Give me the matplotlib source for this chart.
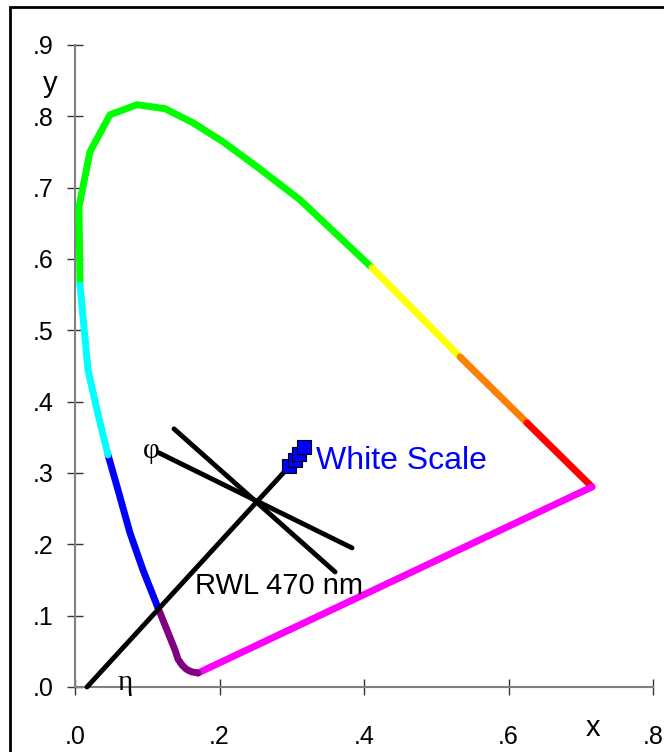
import numpy as np
import matplotlib.pyplot as plt
from matplotlib.patches import Rectangle

# spectral locus, one list per colour band
green_x = [0.0069, 0.0055, 0.0208, 0.0484, 0.0858, 0.1246, 0.1633, 0.2048, 0.2519, 0.3114, 0.4111]
green_y = [0.5638, 0.6730, 0.7504, 0.8022, 0.8163, 0.8107, 0.7910, 0.7644, 0.7293, 0.6830, 0.5877]
yellow_x = [0.4111, 0.5329]
yellow_y = [0.5877, 0.4628]
orange_x = [0.5329, 0.6256]
orange_y = [0.4628, 0.3703]
red_x = [0.6256, 0.7156]
red_y = [0.3703, 0.2805]
magenta_x = [0.7156, 0.1702]
magenta_y = [0.2805, 0.0196]
purple_x = [0.1702, 0.1610, 0.1540, 0.1480, 0.1426, 0.1384, 0.1273, 0.1149]
purple_y = [0.0196, 0.0214, 0.0250, 0.0310, 0.0390, 0.0519, 0.0799, 0.1108]
blue_x = [0.1149, 0.0941, 0.0761, 0.0595, 0.0457]
blue_y = [0.1108, 0.1640, 0.2160, 0.2763, 0.3254]
cyan_x = [0.0457, 0.0304, 0.0180, 0.0069]
cyan_y = [0.3254, 0.3885, 0.4446, 0.5638]

# black construction lines
eta_x = [0.0166, 0.2960]
eta_y = [0.0000, 0.3086]
phi_x = [0.1163, 0.3834]
phi_y = [0.3282, 0.1950]
rwl_x = [0.1370, 0.3600]
rwl_y = [0.3619, 0.1613]

# white scale points
white_x = [0.296, 0.304, 0.310, 0.317]
white_y = [0.310, 0.318, 0.326, 0.336]

xticks = [0.0, 0.2, 0.4, 0.6, 0.8]
xlabels = ['.0', '.2', '.4', '.6', '.8']
yticks = [0.0, 0.1, 0.2, 0.3, 0.4, 0.5, 0.6, 0.7, 0.8, 0.9]
ylabels = ['.0', '.1', '.2', '.3', '.4', '.5', '.6', '.7', '.8', '.9']

plt.rcParams['font.family'] = ['Liberation Sans', 'DejaVu Sans']

fig = plt.figure(figsize=(6.64, 7.52), dpi=100)
ax = fig.add_axes([75/664, 1-687/752, 578/664, 642/752])

fig.patches.append(Rectangle((10/664, -0.1), 1.2, 1-7/752+0.1, transform=fig.transFigure,
                             fill=False, edgecolor='black', linewidth=2))

bands = [(green_x, green_y, '#00ff00'), (yellow_x, yellow_y, '#ffff00'),
         (orange_x, orange_y, '#ff8000'), (red_x, red_y, '#ff0000'),
         (magenta_x, magenta_y, '#ff00ff'), (purple_x, purple_y, '#800080'),
         (blue_x, blue_y, '#0000ff'), (cyan_x, cyan_y, '#00ffff')]
for bx, by, c in bands:
    ax.plot(bx, by, color=c, lw=5, solid_capstyle='round', solid_joinstyle='round',
            clip_on=False, zorder=3)

for lx, ly in [(eta_x, eta_y), (phi_x, phi_y), (rwl_x, rwl_y)]:
    ax.plot(lx, ly, color='black', lw=3.5, solid_capstyle='round', clip_on=False, zorder=4)

ax.plot(white_x, white_y, 's', color='#0000ff', mec='black', mew=0.8, ms=9.5,
        clip_on=False, zorder=5)

ax.text(0.334, 0.317, 'White Scale', color='#0000ff', fontsize=23, va='center')
ax.text(0.166, 0.141, 'RWL 470 nm', color='black', fontsize=21, va='center')
ax.text(0.106, 0.331, 'φ', fontsize=21, family=['Liberation Serif', 'DejaVu Serif'],
        va='center', ha='center')
ax.text(0.069, 0.006, 'η', fontsize=21, family=['Liberation Serif', 'DejaVu Serif'],
        va='center', ha='center')
ax.text(0.717, -0.057, 'x', fontsize=21, va='center', ha='center')
ax.text(-0.035, 0.845, 'y', fontsize=21, va='center', ha='center')

ax.set_xlim(0, 0.8)
ax.set_ylim(0, 0.9)
ax.set_xticks(xticks)
ax.set_xticklabels(xlabels)
ax.set_yticks(yticks)
ax.set_yticklabels(ylabels)
ax.tick_params(direction='inout', length=11, width=1, color='#333333', labelsize=18)
ax.tick_params(axis='x', pad=22)
ax.tick_params(axis='y', pad=10)
for s in ['top', 'right']:
    ax.spines[s].set_visible(False)
for s in ['left', 'bottom']:
    ax.spines[s].set_color('#808080')
    ax.spines[s].set_linewidth(1.5)

fig.savefig('out.png', dpi=100)
